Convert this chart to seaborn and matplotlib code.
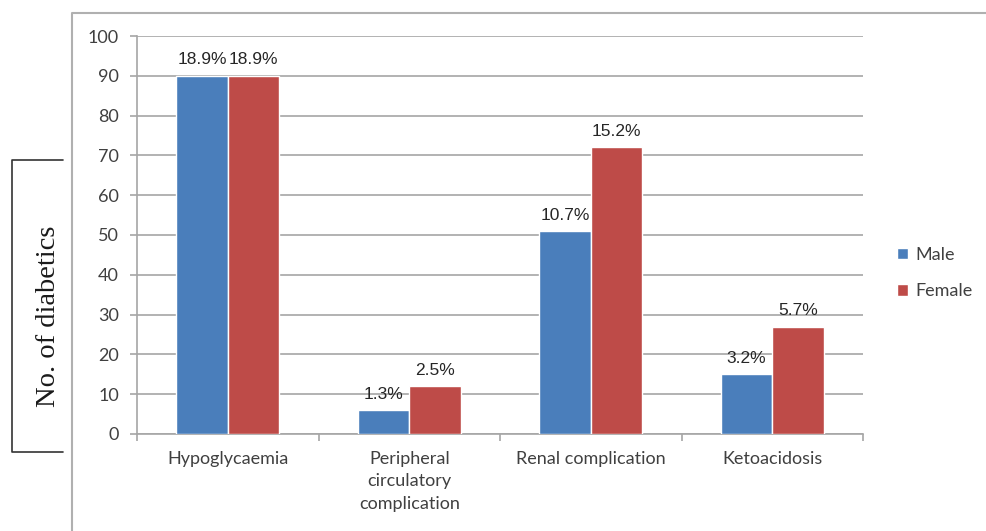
import seaborn as sns
import matplotlib.pyplot as plt
import pandas as pd
from matplotlib.lines import Line2D

# data
complications = ['Hypoglycaemia', 'Peripheral\ncirculatory\ncomplication',
                 'Renal complication', 'Ketoacidosis']
male = [90, 6, 51, 15]
female = [90, 12, 72, 27]
male_pct = ['18.9%', '1.3%', '10.7%', '3.2%']
female_pct = ['18.9%', '2.5%', '15.2%', '5.7%']
y_ticks = list(range(0, 101, 10))

df = pd.DataFrame({
    'complication': complications * 2,
    'count': male + female,
    'sex': ['Male'] * 4 + ['Female'] * 4,
})

sns.set_style('white')
plt.rcParams['font.family'] = ['Lato', 'DejaVu Sans']

fig = plt.figure(figsize=(9.87, 5.31), dpi=100)
ax = fig.add_axes([0.1388, 0.1827, 0.7356, 0.7495])

sns.barplot(data=df, x='complication', y='count', hue='sex',
            palette=['#4a7ebb', '#be4b48'], saturation=1, width=0.57,
            ax=ax, zorder=3)

# percent labels on top of bars
for cont, labs in zip(ax.containers, [male_pct, female_pct]):
    ax.bar_label(cont, labels=labs, padding=6, fontsize=12.5,
                 color='#262626', family='Liberation Sans')

ax.set_ylim(0, 100)
ax.set_xlim(-0.5, 3.5)
ax.set_yticks(y_ticks)
ax.set_xticks([-0.5, 0.5, 1.5, 2.5, 3.5], minor=True)
ax.yaxis.grid(True, color='#a6a6a6', lw=1.2, zorder=0)
ax.set_axisbelow(True)

for s in ['top', 'right']:
    ax.spines[s].set_visible(False)
for s in ['left', 'bottom']:
    ax.spines[s].set_color('#a6a6a6')
    ax.spines[s].set_linewidth(1.2)

ax.tick_params(axis='y', length=5, width=1.2, color='#a6a6a6', pad=8,
               labelsize=13, labelcolor='#404040', left=True)
ax.tick_params(axis='x', which='major', length=0, pad=12,
               labelsize=13, labelcolor='#404040')
ax.tick_params(axis='x', which='minor', length=5, width=1.2,
               color='#a6a6a6', bottom=True)
for lab in ax.get_xticklabels():
    lab.set_linespacing(1.5)
ax.set_xlabel('')
ax.set_ylabel('')

# legend on the right
handles, labels = ax.get_legend_handles_labels()
ax.legend(handles, labels, loc='center left', frameon=False,
          bbox_to_anchor=(888 / 987, 1 - 273 / 531),
          bbox_transform=fig.transFigure,
          handlelength=0.6, handleheight=0.6, handletextpad=0.4,
          labelspacing=1.15, fontsize=13, labelcolor='#404040', borderpad=0)

# y label with bracket, as in the original figure
fig.text(49 / 987, 1 - 316 / 531, 'No. of diabetics', rotation=90,
         ha='center', va='center', fontsize=20.5, family='Liberation Serif',
         color='#1a1a1a')
bx = [63 / 987, 12 / 987, 12 / 987, 63 / 987]
by = [1 - 160 / 531, 1 - 160 / 531, 1 - 452 / 531, 1 - 452 / 531]
fig.add_artist(Line2D(bx, by, transform=fig.transFigure, color='#333333', lw=1.2))

# outer chart frame (partly cropped in the original)
fig.add_artist(Line2D([72 / 987, 72 / 987, 1.0], [0.0, 1 - 13 / 531, 1 - 13 / 531],
                      transform=fig.transFigure, color='#b0b0b0', lw=1.5))

fig.savefig('out.png', dpi=100)
